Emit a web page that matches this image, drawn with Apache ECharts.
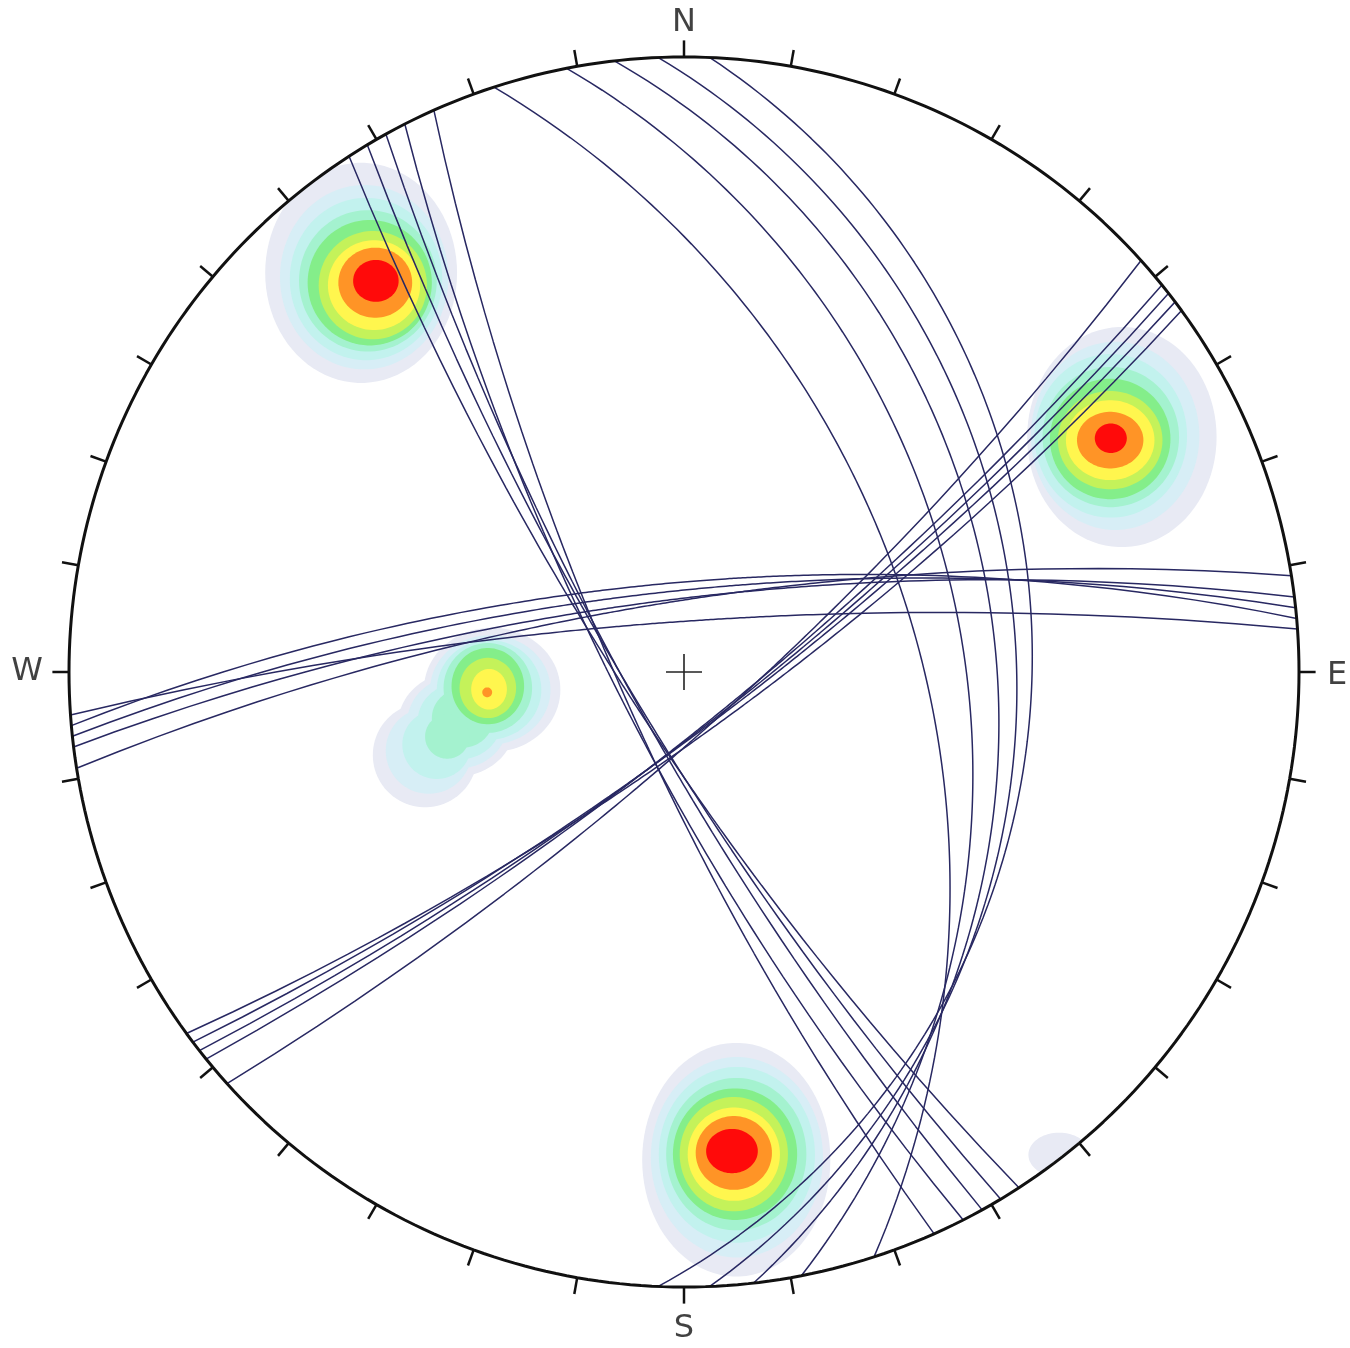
<!DOCTYPE html>
<html><head><meta charset="utf-8">
<script src="https://cdn.jsdelivr.net/npm/echarts@6/dist/echarts.min.js"></script>
<style>html,body{margin:0;padding:0;background:#fff}#c{width:1350px;height:1348px}</style>
</head><body><div id="c"></div>
<script>
// ---- Great circles (dip direction / dip, degrees) ----
const setA_dipDir = [356, 355, 354, 353, 351];
const setA_dip    = [80.6, 73.4, 74.9, 76.4, 76.8];
const setB_dipDir = [138, 141, 142, 143, 144];
const setB_dip    = [79.5, 80, 79.7, 79.4, 78.5];
const setC_dipDir = [237, 239, 241, 243, 246];
const setC_dip    = [79.1, 79.7, 79.5, 77.4, 78.1];
const setD_dipDir = [72, 79, 83.5, 87.6, 92.4];
const setD_dip    = [48.7, 41.2, 36.2, 33.2, 31];

// ---- Density contours: [x, y, radiusX, radiusY, level] in net units ----
const contourColors = ['#e8eaf4','#d7eef6','#c2f2ee','#a4f2cf','#84ee8a','#c4f25a','#fff64e','#ff9426','#ff0a0a'];
const contourNW = [
  [-0.525,0.649,0.156,0.179,0],[-0.520,0.642,0.137,0.150,1],[-0.517,0.639,0.124,0.132,2],
  [-0.514,0.636,0.112,0.115,3],[-0.511,0.633,0.101,0.102,4],[-0.506,0.629,0.088,0.088,5],
  [-0.504,0.629,0.075,0.073,6],[-0.502,0.633,0.060,0.057,7],[-0.501,0.636,0.037,0.034,8]
];
const contourE = [
  [0.712,0.382,0.154,0.179,0],[0.701,0.384,0.137,0.153,1],[0.694,0.384,0.124,0.133,2],
  [0.694,0.382,0.111,0.114,3],[0.693,0.379,0.098,0.098,4],[0.693,0.377,0.085,0.080,5],
  [0.693,0.377,0.072,0.065,6],[0.693,0.377,0.054,0.046,7],[0.694,0.380,0.026,0.024,8]
];
const contourW = [
  [-0.312,-0.029,0.111,0.101,0],[-0.370,-0.085,0.095,0.085,0],[-0.421,-0.135,0.085,0.085,0],
  [-0.315,-0.029,0.098,0.089,1],[-0.368,-0.082,0.082,0.075,1],[-0.415,-0.128,0.070,0.070,1],
  [-0.317,-0.029,0.085,0.081,2],[-0.365,-0.080,0.068,0.062,2],[-0.402,-0.118,0.056,0.056,2],
  [-0.319,-0.026,0.072,0.073,3],[-0.360,-0.075,0.050,0.048,3],[-0.385,-0.105,0.036,0.036,3],
  [-0.319,-0.023,0.059,0.062,4],[-0.319,-0.026,0.046,0.049,5],
  [-0.317,-0.028,0.029,0.033,6],[-0.320,-0.033,0.008,0.008,7]
];
const contourS = [
  [0.085,-0.793,0.153,0.190,0],[0.086,-0.789,0.140,0.163,1],[0.086,-0.785,0.127,0.143,2],
  [0.085,-0.784,0.114,0.124,3],[0.083,-0.784,0.101,0.107,4],[0.081,-0.784,0.088,0.093,5],
  [0.081,-0.784,0.075,0.076,6],[0.081,-0.782,0.062,0.060,7],[0.078,-0.779,0.042,0.036,8]
];
const contourSE = [[0.610,-0.785,0.050,0.036,0]];

// ---- Frame ----
const tickAzimuths = [0,10,20,30,40,50,60,70,80,90,100,110,120,130,140,150,160,170,180,190,200,210,220,230,240,250,260,270,280,290,300,310,320,330,340,350];
const directionLabels = [['N',0,1.055],['E',1.062,-0.006],['S',0,-1.068],['W',-1.068,0]];

const D2R = Math.PI/180;
function project(trend, plunge){ // lower hemisphere, equal angle
  const r = Math.tan(Math.PI/4 - plunge*D2R/2);
  return [r*Math.sin(trend*D2R), r*Math.cos(trend*D2R)];
}
function greatCircle(dd, dip){
  const pts=[];
  for(let t=-90;t<=90;t+=1){
    const pl = Math.atan(Math.tan(dip*D2R)*Math.cos(t*D2R))/D2R;
    pts.push(project(dd+t, pl));
  }
  return pts;
}
const planeSeries=[];
[[setA_dipDir,setA_dip],[setB_dipDir,setB_dip],[setC_dipDir,setC_dip],[setD_dipDir,setD_dip]].forEach(([dds,dips])=>{
  dds.forEach((dd,i)=>{
    planeSeries.push({type:'line',data:greatCircle(dd,dips[i]),showSymbol:false,symbol:'none',clip:false,silent:true,
      lineStyle:{color:'#282862',width:1.5},z:5,animation:false});
  });
});
const contourData = [].concat(contourNW,contourE,contourW,contourS,contourSE).slice().sort((a,b)=>a[4]-b[4]);

const circlePts=[]; for(let a=0;a<=360;a+=1){circlePts.push([Math.sin(a*D2R),Math.cos(a*D2R)]);}

const chart = echarts.init(document.getElementById('c'),null,{renderer:'canvas'});
chart.setOption({
  animation:false,
  backgroundColor:'#ffffff',
  grid:{left:69,top:57,width:1230,height:1230},
  xAxis:{type:'value',min:-1,max:1,show:false},
  yAxis:{type:'value',min:-1,max:1,show:false},
  series:[
    {type:'custom',clip:false,silent:true,z:1,data:contourData,encode:{x:0,y:1},
     renderItem:function(params,api){
       const u=api.value(0),v=api.value(1),rx=api.value(2),ry=api.value(3),lvl=api.value(4);
       const pts=[];
       for(let k=0;k<90;k++){
         const a=k*4*D2R; let x=u+rx*Math.cos(a), y=v+ry*Math.sin(a);
         const r=Math.hypot(x,y); if(r>0.998){x=x/r*0.998;y=y/r*0.998;}
         pts.push(api.coord([x,y]));
       }
       return {type:'polygon',shape:{points:pts},style:{fill:contourColors[lvl],stroke:null}};
     }},
  ].concat(planeSeries).concat([
    {type:'line',data:circlePts,showSymbol:false,symbol:'none',clip:false,silent:true,z:10,
     lineStyle:{color:'#111111',width:3}},
    {type:'custom',clip:false,silent:true,z:10,data:tickAzimuths.map(a=>[Math.sin(a*D2R),Math.cos(a*D2R),a]),encode:{x:0,y:1},
     renderItem:function(params,api){
       const x=api.value(0),y=api.value(1);
       const p1=api.coord([x,y]), p2=api.coord([x*1.027,y*1.027]);
       return {type:'line',shape:{x1:p1[0],y1:p1[1],x2:p2[0],y2:p2[1]},style:{stroke:'#111111',lineWidth:2.5}};
     }},
    {type:'custom',clip:false,silent:true,z:10,data:[[0,0]],encode:{x:0,y:1},
     renderItem:function(params,api){
       const c=api.coord([0,0]); const h=18;
       return {type:'group',children:[
         {type:'line',shape:{x1:c[0]-h,y1:c[1],x2:c[0]+h,y2:c[1]},style:{stroke:'#222',lineWidth:1.6}},
         {type:'line',shape:{x1:c[0],y1:c[1]-h,x2:c[0],y2:c[1]+h},style:{stroke:'#222',lineWidth:1.6}}
       ]};
     }},
    {type:'scatter',clip:false,silent:true,z:11,symbolSize:1,itemStyle:{color:'rgba(0,0,0,0)'},
     data:directionLabels.map(d=>[d[1],d[2],d[0]]),
     label:{show:true,position:'inside',formatter:p=>p.value[2],color:'#111',fontSize:32,fontFamily:'DejaVu Sans'}}
  ])
});
</script></body></html>
